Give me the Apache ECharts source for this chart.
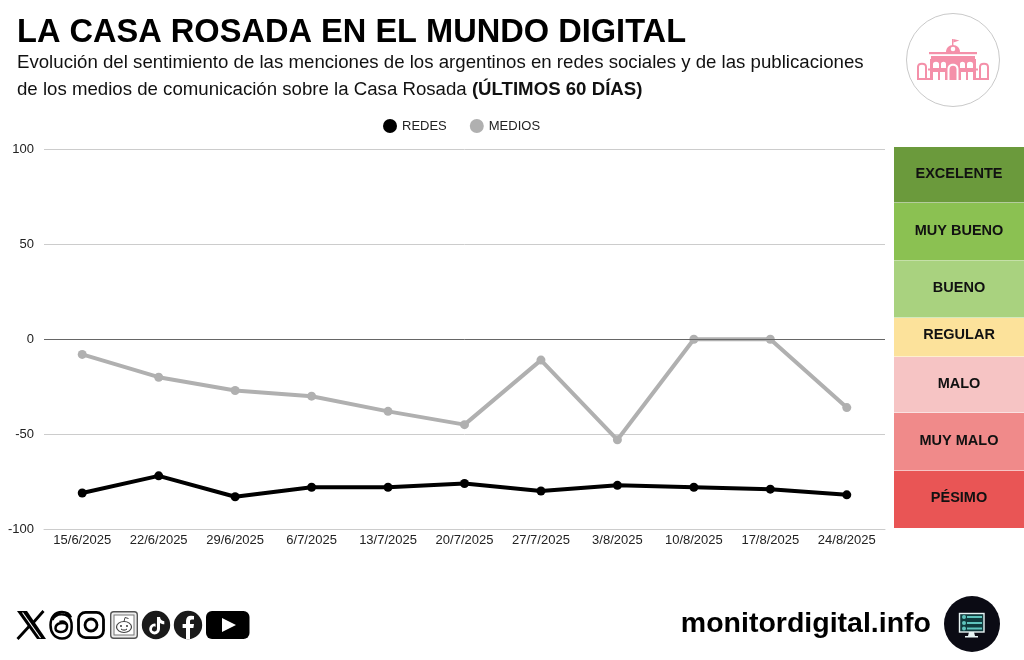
<!DOCTYPE html>
<html><head><meta charset="utf-8">
<script src="https://cdn.jsdelivr.net/npm/echarts@6/dist/echarts.min.js"></script>
<style>
html,body{margin:0;padding:0;background:#fff;width:1024px;height:660px;overflow:hidden}
#c{position:absolute;left:0;top:0;width:1024px;height:660px}
svg{position:absolute;overflow:visible}
</style></head><body>
<div id="c"></div>
<!-- Casa Rosada badge -->
<svg style="left:906px;top:13px" width="94" height="94" viewBox="0 0 94 94">
<circle cx="47" cy="47" r="46.5" fill="#fff" stroke="#c9c9c9" stroke-width="1"/>
<g fill="#f490a9">
<rect x="46" y="26" width="1.4" height="7"/><path d="M47.400 26l6 1.500-6 2z"/>
<path d="M40 39c0-4 3-7 7-7s7 3 7 7z"/>
<rect x="23" y="39" width="48" height="2.200"/>
<rect x="25" y="43" width="44" height="3"/>
<rect x="24" y="46" width="46" height="21"/>
<rect x="22" y="55.500" width="50" height="2"/>
<rect x="12" y="65" width="70" height="2"/>
<path d="M12 66V54c0-4.500 8-4.500 8 0v12zM74 66V54c0-4.500 8-4.500 8 0v12z" fill="none" stroke="#f490a9" stroke-width="2"/>
</g>
<g fill="#fff"><circle cx="47" cy="36" r="2.300"/>
<path d="M27 55v-4c0-3 6-3 6 0v4zM35 55v-4c0-3 5-3 5 0v4zM54 55v-4c0-3 5-3 5 0v4zM61 55v-4c0-3 6-3 6 0v4z"/>
<rect x="27" y="59" width="5" height="8"/><rect x="34" y="59" width="5" height="8"/><rect x="55" y="59" width="5" height="8"/><rect x="62" y="59" width="5" height="8"/>
<path d="M41.500 67V56c0-7 11-7 11 0v11z"/>
</g>
<path d="M43.500 67V56c0-4.500 7-4.500 7 0v11z" fill="#f490a9"/>
</svg>
<!-- Social icons -->
<svg style="left:16px;top:610px" width="236" height="30" viewBox="0 0 236 30">
<path d="M1 1h10l19 28h-9z" fill="#000"/>
<path d="M1.500 29L13 16.500M27.500 1L16.500 13.500" stroke="#000" stroke-width="2.800" fill="none"/>
<path d="M6.500 2.500L24.500 28" stroke="#fff" stroke-width="1.100" fill="none"/>
<g fill="none" stroke="#000" stroke-width="2.500">
<path d="M36.500 10c1.500-7 17-9 19 3 .8 9-1 15.500-9.500 15.500-7.500 0-11.500-6-11.500-13.500S38.500 2 46 2c4.500 0 7.500 2 9 5.500"/>
<path d="M51 14.500c-3-2.500-11.500-2-11.500 4 0 4.500 10.500 5 11.500-1 .7-4.500-3-7-7.500-5.500"/>
</g>
<rect x="62.500" y="2.400" width="25" height="25.200" rx="7" fill="none" stroke="#000" stroke-width="2.800"/>
<circle cx="75" cy="15" r="6" fill="none" stroke="#000" stroke-width="2.800"/>
<rect x="94.700" y="1.700" width="26.600" height="26.600" rx="3" fill="#eee" stroke="#555" stroke-width="1.400"/>
<rect x="98" y="5" width="20" height="20" fill="#fff" stroke="#777" stroke-width="1"/>
<ellipse cx="108" cy="17" rx="7.500" ry="5.500" fill="none" stroke="#444" stroke-width="1.200"/>
<path d="M108 11.500l1-4 3.500 1" fill="none" stroke="#444"/>
<circle cx="105" cy="16" r=".9" fill="#222"/><circle cx="111" cy="16" r=".9" fill="#222"/><path d="M105 19c2 1.500 4 1.500 6 0" fill="none" stroke="#222"/>
<circle cx="140" cy="15" r="14.200" fill="#1a1a1a"/>
<path d="M141 7h3c.3 2.500 2 4 4.300 4.300v3c-1.600 0-3-.5-4.300-1.400V19a5.400 5.400 0 1 1-5.400-5.400l1 .1v3a2.500 2.500 0 1 0 1.400 2.300z" fill="#fff"/>
<circle cx="172" cy="15" r="14.200" fill="#1a1a1a"/>
<path d="M170 29V18h-3.400v-4h3.400v-3c0-3.400 2-5.200 5-5.200l3 .2v3.400h-2c-1.600 0-2 .8-2 2V14h4l-.6 4H174v11z" fill="#fff"/>
<rect x="190" y="1" width="43.500" height="28" rx="6" fill="#000"/>
<path d="M206 8l14 7-14 7z" fill="#fff"/>
</svg>
<!-- Monitor badge -->
<svg style="left:944px;top:596px" width="56" height="56" viewBox="0 0 56 56">
<circle cx="28" cy="28" r="28" fill="#0b0b14"/>
<rect x="15.500" y="17.500" width="24.500" height="18.500" fill="#0f3a3c" stroke="#e8f4f4" stroke-width="1.400"/>
<g fill="#5fc4bc"><circle cx="20" cy="21" r="2"/><circle cx="20" cy="27" r="2"/><circle cx="20" cy="32.500" r="2"/>
<rect x="23" y="20" width="15" height="2"/><rect x="23" y="26" width="15" height="2"/><rect x="23" y="31.500" width="15" height="2"/></g>
<path d="M25 36h5l1 4h3v1.500H21V40h3z" fill="#e8f4f4"/>
</svg>
<script>
var categories = ['15/6/2025','22/6/2025','29/6/2025','6/7/2025','13/7/2025','20/7/2025','27/7/2025','3/8/2025','10/8/2025','17/8/2025','24/8/2025'];
var redes = [-81,-72,-83,-78,-78,-76,-80,-77,-78,-79,-82];
var medios = [-8,-20,-27,-30,-38,-45,-11,-53,0,0,-36];
var bandLabels = ['EXCELENTE','MUY BUENO','BUENO','REGULAR','MALO','MUY MALO','PÉSIMO'];
var bandColors = ['#6b9a3c','#8bc152','#a9d27f','#fce29b','#f6c4c4','#f08a8a','#e95555'];
var bandEdges = [147,203,261,318,357,413,471,528];
var bandLabelY = [174,231,288,335,384,441,498];
var FONT = '"Liberation Sans", Arial, sans-serif';

var graphics = [
 {type:'text',left:17,top:17,style:{text:'LA CASA ROSADA EN EL MUNDO DIGITAL',font:'bold 32.6px '+FONT,fill:'#000'}},
 {type:'text',left:17,top:53,style:{text:'Evolución del sentimiento de las menciones de los argentinos en redes sociales y de las publicaciones',font:'18.65px '+FONT,fill:'#111'}},
 {type:'text',left:17,top:80,style:{rich:{a:{font:'18.65px '+FONT,fill:'#111'},b:{font:'bold 18.65px '+FONT,fill:'#111'}},text:'{a|de los medios de comunicación sobre la Casa Rosada }{b|(ÚLTIMOS 60 DÍAS)}'}},
 {type:'text',right:93,top:610,style:{text:'monitordigital.info',font:'bold 28.5px '+FONT,fill:'#000'}}
];
bandLabels.forEach(function(l,i){
 graphics.push({type:'rect',shape:{x:894,y:bandEdges[i],width:130,height:bandEdges[i+1]-bandEdges[i]-(i<6?0.5:0)},style:{fill:bandColors[i]}});
 graphics.push({type:'text',x:959,y:bandLabelY[i],style:{text:l,font:'bold 14.5px '+FONT,fill:'#111',align:'center',verticalAlign:'middle'}});
});

var chart = echarts.init(document.getElementById('c'),null,{renderer:'canvas'});
chart.setOption({
 animation:false,
 textStyle:{fontFamily:FONT},
 legend:{top:114,left:378,itemGap:23,itemWidth:14,itemHeight:14,icon:'circle',
   data:['REDES','MEDIOS'],textStyle:{fontSize:13,color:'#222',fontFamily:FONT}},
 grid:{left:44,right:139,top:149.5,bottom:131,containLabel:false},
 xAxis:{type:'category',data:categories,boundaryGap:true,
   axisLine:{onZero:false,lineStyle:{color:'#ccc',width:1}},axisTick:{show:false},
   axisLabel:{fontSize:13,color:'#222',margin:5,interval:0,fontFamily:FONT},splitLine:{show:false}},
 yAxis:{type:'value',min:-100,max:100,interval:50,
   axisLine:{show:false},axisTick:{show:false},
   axisLabel:{fontSize:13,color:'#222',margin:10,padding:[2,0,0,0],fontFamily:FONT},
   splitLine:{lineStyle:{color:'#ccc',width:1}}},
 series:[
  {name:'REDES',type:'line',data:redes,color:'#000',symbol:'circle',symbolSize:9,lineStyle:{width:4,color:'#000'},itemStyle:{color:'#000'},
   markLine:{silent:true,symbol:'none',label:{show:false},lineStyle:{color:'#666',width:1,type:'solid'},data:[{yAxis:0}]}},
  {name:'MEDIOS',type:'line',data:medios,color:'#b0b0b0',symbol:'circle',symbolSize:9,lineStyle:{width:4,color:'#b0b0b0'},itemStyle:{color:'#b0b0b0'}}
 ],
 graphic:graphics
});
</script>
</body></html>
